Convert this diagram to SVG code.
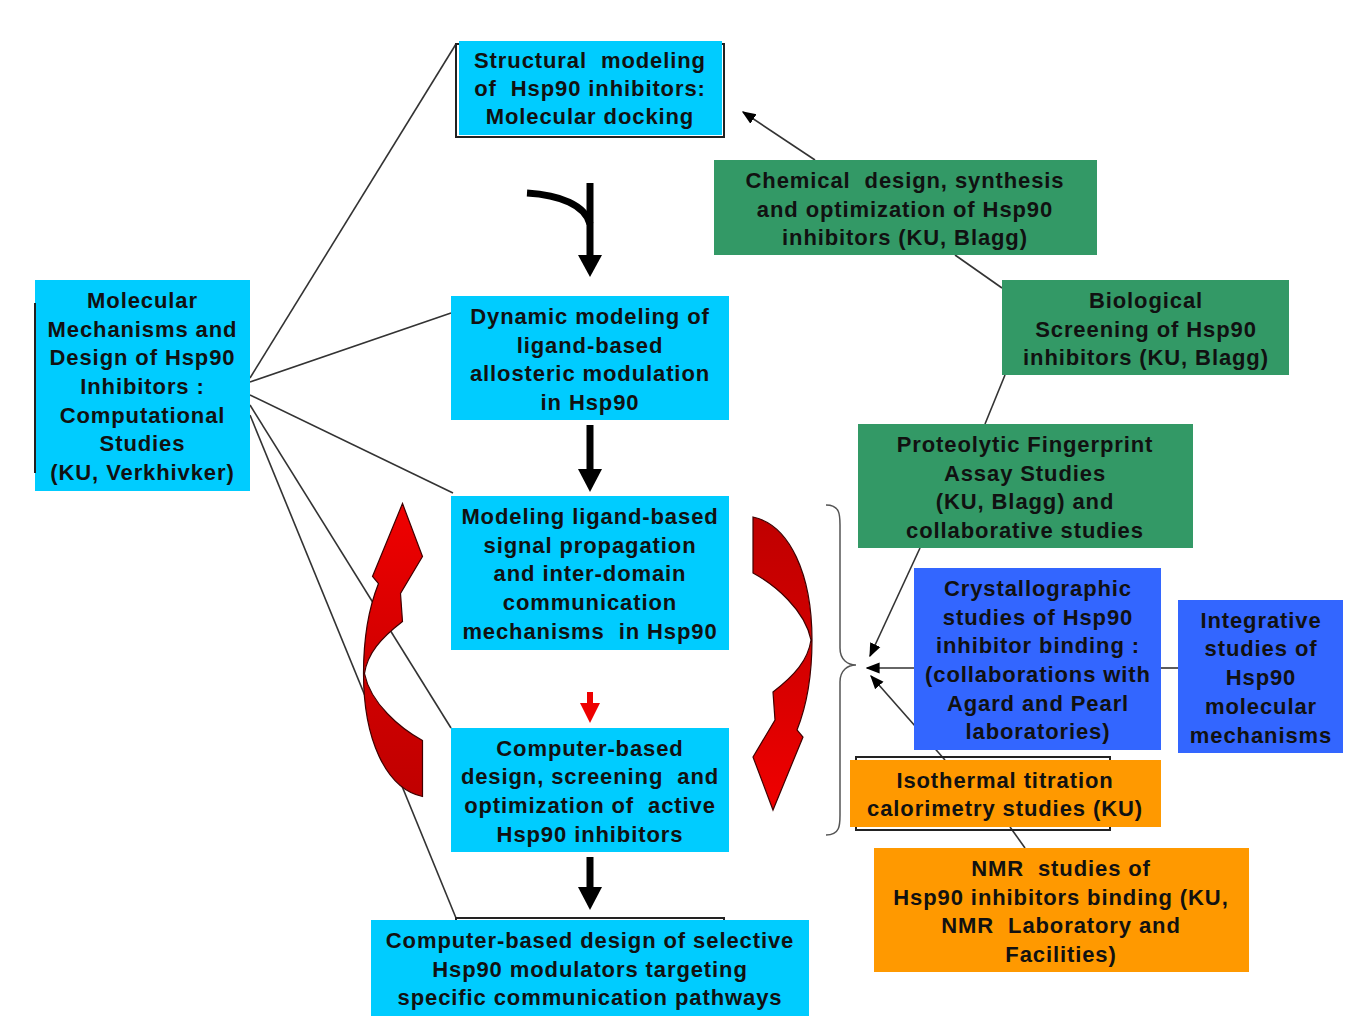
<svg xmlns="http://www.w3.org/2000/svg" width="1365" height="1024" viewBox="0 0 1365 1024">
<defs>
<style>
text{font-family:"Liberation Sans",Arial,sans-serif;font-weight:bold;font-size:22px;letter-spacing:0.9px;fill:#111;text-anchor:middle;white-space:pre}
.cyan{fill:#00CCFF}
.green{fill:#339966}
.blue{fill:#3366FF}
.orange{fill:#FF9900}
.ln{stroke:#333;stroke-width:1.6;fill:none}
.thick{stroke:#000;stroke-width:7;fill:none}
.outl{fill:none;stroke:#222;stroke-width:2}
</style>
<marker id="ah2" viewBox="0 0 10 10" refX="9" refY="5" markerWidth="14" markerHeight="14" orient="auto" markerUnits="userSpaceOnUse">
<path d="M0,1 L10,5 L0,9 z" fill="#000"/>
</marker>
<linearGradient id="rg" x1="0" y1="0" x2="0" y2="1">
<stop offset="0" stop-color="#C00000"/>
<stop offset="0.5" stop-color="#D40000"/>
<stop offset="1" stop-color="#F00000"/>
</linearGradient>
<path id="carrow" d="M753,517 C790,525 812,575 812,640 C812,680 805,710 797,730 L803,737 L773,810 L753,757 L775,720 L773,692 C795,675 808,660 811,640 C805,610 775,585 753,573 Z" fill="url(#rg)" stroke="#400000" stroke-width="1.2"/>
</defs>
<rect width="1365" height="1024" fill="#fff"/>

<g id="connectors">
<line class="ln" x1="250" y1="378" x2="456" y2="44"/>
<line class="ln" x1="250" y1="382" x2="451" y2="313"/>
<line class="ln" x1="250" y1="395" x2="453" y2="493"/>
<line class="ln" x1="250" y1="405" x2="451" y2="728"/>
<line class="ln" x1="250" y1="415" x2="456" y2="918"/>
<line class="ln" x1="815" y1="160" x2="743" y2="112" marker-end="url(#ah2)"/>
<line class="ln" x1="955" y1="255" x2="1002" y2="288"/>
<line class="ln" x1="1005" y1="375" x2="985" y2="424"/>
<line class="ln" x1="920" y1="548" x2="870" y2="656" marker-end="url(#ah2)"/>
<line class="ln" x1="914" y1="668" x2="867" y2="668" marker-end="url(#ah2)"/>
<line class="ln" x1="945" y1="760" x2="871" y2="676" marker-end="url(#ah2)"/>
<line class="ln" x1="1161" y1="668" x2="1178" y2="668"/>
<line class="ln" x1="1010" y1="827" x2="1025" y2="848"/>
<path d="M826,505 C840,505 840,515 840,525 L840,648 C840,660 848,665 856,665 C848,665 840,670 840,682 L840,815 C840,825 840,835 826,835" fill="none" stroke="#555" stroke-width="1.5"/>
<path class="thick" d="M527,193 C560,195 585,205 590,224"/>
<line class="thick" x1="590" y1="183" x2="590" y2="258"/>
<polygon points="578,255 602,255 590,277" fill="#000"/>
<line class="thick" x1="590" y1="425" x2="590" y2="472"/>
<polygon points="578,469 602,469 590,492" fill="#000"/>
<line x1="590" y1="692" x2="590" y2="705" stroke="#EE0000" stroke-width="6"/>
<polygon points="580,703 600,703 590,723" fill="#EE0000"/>
<line class="thick" x1="590" y1="857" x2="590" y2="890"/>
<polygon points="578,887 602,887 590,910" fill="#000"/>
<use href="#carrow"/>
<use href="#carrow" transform="translate(1175.5,1313.5) scale(-1,-1)"/>
</g>

<g id="n-left">
<rect class="cyan" x="35" y="280" width="215" height="211"/>
<line x1="35" y1="303" x2="35" y2="473" stroke="#222" stroke-width="2"/>
<text x="142.5" y="307.5">Molecular</text>
<text x="142.5" y="336.5">Mechanisms and</text>
<text x="142.5" y="364.5">Design of Hsp90</text>
<text x="142.5" y="393.5">Inhibitors :</text>
<text x="142.5" y="422.5">Computational</text>
<text x="142.5" y="450.5">Studies</text>
<text x="142.5" y="479.5">(KU, Verkhivker)</text>
</g>

<g id="n-structural">
<rect class="outl" x="456" y="44" width="268" height="93"/>
<rect class="cyan" x="459" y="41" width="263" height="94"/>
<text x="590" y="67.5">Structural  modeling</text>
<text x="590" y="95.5">of  Hsp90 inhibitors:</text>
<text x="590" y="123.5">Molecular docking</text>
</g>

<g id="n-dynamic">
<rect class="cyan" x="451" y="296" width="278" height="124"/>
<text x="590" y="323.5">Dynamic modeling of</text>
<text x="590" y="352.5">ligand-based</text>
<text x="590" y="380.5">allosteric modulation</text>
<text x="590" y="409.5">in Hsp90</text>
</g>

<g id="n-signal">
<rect class="cyan" x="451" y="496" width="278" height="154"/>
<text x="590" y="523.5">Modeling ligand-based</text>
<text x="590" y="552.5">signal propagation</text>
<text x="590" y="580.5">and inter-domain</text>
<text x="590" y="609.5">communication</text>
<text x="590" y="638.5">mechanisms  in Hsp90</text>
</g>

<g id="n-screening">
<rect class="cyan" x="451" y="728" width="278" height="124"/>
<text x="590" y="755.5">Computer-based</text>
<text x="590" y="783.5">design, screening  and</text>
<text x="590" y="812.5">optimization of  active</text>
<text x="590" y="841.5">Hsp90 inhibitors</text>
</g>

<g id="n-selective">
<rect class="outl" x="456" y="918" width="268" height="60"/>
<rect class="cyan" x="371" y="920" width="438" height="96"/>
<text x="590" y="947.5">Computer-based design of selective</text>
<text x="590" y="976.5">Hsp90 modulators targeting</text>
<text x="590" y="1004.5">specific communication pathways</text>
</g>

<g id="n-chemical">
<rect class="green" x="714" y="160" width="383" height="95"/>
<text x="905" y="187.5">Chemical  design, synthesis</text>
<text x="905" y="216.5">and optimization of Hsp90</text>
<text x="905" y="244.5">inhibitors (KU, Blagg)</text>
</g>

<g id="n-biological">
<rect class="green" x="1002" y="280" width="287" height="95"/>
<text x="1146" y="307.5">Biological</text>
<text x="1146" y="336.5">Screening of Hsp90</text>
<text x="1146" y="364.5">inhibitors (KU, Blagg)</text>
</g>

<g id="n-proteolytic">
<rect class="green" x="858" y="424" width="335" height="124"/>
<text x="1025" y="451.5">Proteolytic Fingerprint</text>
<text x="1025" y="480.5">Assay Studies</text>
<text x="1025" y="508.5">(KU, Blagg) and</text>
<text x="1025" y="537.5">collaborative studies</text>
</g>

<g id="n-crystal">
<rect class="blue" x="914" y="568" width="247" height="182"/>
<text x="1038" y="595.5">Crystallographic</text>
<text x="1038" y="624.5">studies of Hsp90</text>
<text x="1038" y="652.5">inhibitor binding :</text>
<text x="1038" y="681.5">(collaborations with</text>
<text x="1038" y="710.5">Agard and Pearl</text>
<text x="1038" y="738.5">laboratories)</text>
</g>

<g id="n-integrative">
<rect class="blue" x="1178" y="600" width="165" height="153"/>
<text x="1261" y="627.5">Integrative</text>
<text x="1261" y="655.5">studies of</text>
<text x="1261" y="684.5">Hsp90</text>
<text x="1261" y="713.5">molecular</text>
<text x="1261" y="742.5">mechanisms</text>
</g>

<g id="n-itc">
<rect class="outl" x="856" y="757" width="254" height="73"/>
<rect class="orange" x="850" y="760" width="311" height="67"/>
<text x="1005" y="787.5">Isothermal titration</text>
<text x="1005" y="815.5">calorimetry studies (KU)</text>
</g>

<g id="n-nmr">
<rect class="orange" x="874" y="848" width="375" height="124"/>
<text x="1061" y="875.5">NMR  studies of</text>
<text x="1061" y="904.5">Hsp90 inhibitors binding (KU,</text>
<text x="1061" y="932.5">NMR  Laboratory and</text>
<text x="1061" y="961.5">Facilities)</text>
</g>
</svg>
